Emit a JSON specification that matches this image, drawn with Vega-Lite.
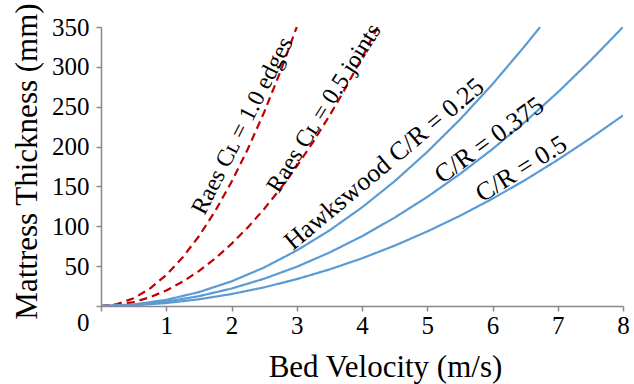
{
  "$schema": "https://vega.github.io/schema/vega-lite/v6.json",
  "width": 522,
  "height": 279,
  "autosize": {"type": "none"},
  "padding": {"left": 101, "top": 27, "right": 11, "bottom": 78},
  "background": "white",
  "config": {
    "view": {"stroke": null},
    "font": "Liberation Serif",
    "axis": {"grid": false, "domainColor": "#898989", "tickColor": "#898989", "domainWidth": 1.5, "tickWidth": 1.5, "tickSize": 5, "labelFont": "Liberation Serif", "labelFontSize": 25, "labelColor": "#000", "labelOverlap": false, "labelFlush": false, "titleFont": "Liberation Serif", "titleFontSize": 31, "titleFontWeight": "normal", "titleColor": "#000"}
  },
  "datasets": {
    "curves": [
      {"series": "Raes edges", "v": 0, "t": 0}, {"series": "Raes edges", "v": 0.25, "t": 2.4}, {"series": "Raes edges", "v": 0.5, "t": 9.7}, {"series": "Raes edges", "v": 0.75, "t": 21.9}, {"series": "Raes edges", "v": 1, "t": 38.9}, {"series": "Raes edges", "v": 1.25, "t": 60.8}, {"series": "Raes edges", "v": 1.5, "t": 87.5}, {"series": "Raes edges", "v": 1.75, "t": 119.1}, {"series": "Raes edges", "v": 2, "t": 155.6}, {"series": "Raes edges", "v": 2.25, "t": 196.9}, {"series": "Raes edges", "v": 2.5, "t": 243.1}, {"series": "Raes edges", "v": 2.75, "t": 294.2}, {"series": "Raes edges", "v": 3, "t": 350},
      {"series": "Raes joints", "v": 0, "t": 0}, {"series": "Raes joints", "v": 0.25, "t": 1.2}, {"series": "Raes joints", "v": 0.5, "t": 4.9}, {"series": "Raes joints", "v": 0.75, "t": 11}, {"series": "Raes joints", "v": 1, "t": 19.5}, {"series": "Raes joints", "v": 1.25, "t": 30.4}, {"series": "Raes joints", "v": 1.5, "t": 43.8}, {"series": "Raes joints", "v": 1.75, "t": 59.6}, {"series": "Raes joints", "v": 2, "t": 77.9}, {"series": "Raes joints", "v": 2.25, "t": 98.6}, {"series": "Raes joints", "v": 2.5, "t": 121.7}, {"series": "Raes joints", "v": 2.75, "t": 147.2}, {"series": "Raes joints", "v": 3, "t": 175.2}, {"series": "Raes joints", "v": 3.25, "t": 205.7}, {"series": "Raes joints", "v": 3.5, "t": 238.5}, {"series": "Raes joints", "v": 3.75, "t": 273.8}, {"series": "Raes joints", "v": 4, "t": 311.5}, {"series": "Raes joints", "v": 4.24, "t": 350},
      {"series": "CR 0.25", "v": 0, "t": 0}, {"series": "CR 0.25", "v": 0.5, "t": 1.9}, {"series": "CR 0.25", "v": 1, "t": 7.7}, {"series": "CR 0.25", "v": 1.5, "t": 17.4}, {"series": "CR 0.25", "v": 2, "t": 30.9}, {"series": "CR 0.25", "v": 2.5, "t": 48.3}, {"series": "CR 0.25", "v": 3, "t": 69.6}, {"series": "CR 0.25", "v": 3.5, "t": 94.7}, {"series": "CR 0.25", "v": 4, "t": 123.7}, {"series": "CR 0.25", "v": 4.5, "t": 156.5}, {"series": "CR 0.25", "v": 5, "t": 193.3}, {"series": "CR 0.25", "v": 5.5, "t": 233.8}, {"series": "CR 0.25", "v": 6, "t": 278.3}, {"series": "CR 0.25", "v": 6.5, "t": 326.6}, {"series": "CR 0.25", "v": 6.73, "t": 350},
      {"series": "CR 0.375", "v": 0, "t": 0}, {"series": "CR 0.375", "v": 0.5, "t": 1.4}, {"series": "CR 0.375", "v": 1, "t": 5.5}, {"series": "CR 0.375", "v": 1.5, "t": 12.3}, {"series": "CR 0.375", "v": 2, "t": 21.9}, {"series": "CR 0.375", "v": 2.5, "t": 34.2}, {"series": "CR 0.375", "v": 3, "t": 49.2}, {"series": "CR 0.375", "v": 3.5, "t": 67}, {"series": "CR 0.375", "v": 4, "t": 87.5}, {"series": "CR 0.375", "v": 4.5, "t": 110.8}, {"series": "CR 0.375", "v": 5, "t": 136.8}, {"series": "CR 0.375", "v": 5.5, "t": 165.5}, {"series": "CR 0.375", "v": 6, "t": 196.9}, {"series": "CR 0.375", "v": 6.5, "t": 231.1}, {"series": "CR 0.375", "v": 7, "t": 268}, {"series": "CR 0.375", "v": 7.5, "t": 307.7}, {"series": "CR 0.375", "v": 8, "t": 350},
      {"series": "CR 0.5", "v": 0, "t": 0}, {"series": "CR 0.5", "v": 0.5, "t": 0.9}, {"series": "CR 0.5", "v": 1, "t": 3.7}, {"series": "CR 0.5", "v": 1.5, "t": 8.4}, {"series": "CR 0.5", "v": 2, "t": 15}, {"series": "CR 0.5", "v": 2.5, "t": 23.4}, {"series": "CR 0.5", "v": 3, "t": 33.7}, {"series": "CR 0.5", "v": 3.5, "t": 45.8}, {"series": "CR 0.5", "v": 4, "t": 59.8}, {"series": "CR 0.5", "v": 4.5, "t": 75.7}, {"series": "CR 0.5", "v": 5, "t": 93.5}, {"series": "CR 0.5", "v": 5.5, "t": 113.1}, {"series": "CR 0.5", "v": 6, "t": 134.6}, {"series": "CR 0.5", "v": 6.5, "t": 158}, {"series": "CR 0.5", "v": 7, "t": 183.3}, {"series": "CR 0.5", "v": 7.5, "t": 210.4}, {"series": "CR 0.5", "v": 8, "t": 239}
    ]
  },
  "encoding": {
    "x": {"field": "v", "type": "quantitative", "scale": {"domain": [0, 8], "nice": false}, "axis": {"values": [0, 1, 2, 3, 4, 5, 6, 7, 8], "format": "d", "title": "Bed Velocity (m/s)", "titlePadding": 14, "titleX": 284, "labelPadding": 2, "labelExpr": "datum.value == 0 ? '' : datum.label"}},
    "y": {"field": "t", "type": "quantitative", "scale": {"domain": [0, 350], "nice": false}, "axis": {"values": [0, 50, 100, 150, 200, 250, 300, 350], "format": "d", "title": "Mattress Thickness (mm)", "titlePadding": 8, "titleY": 134, "labelPadding": 7, "labelOffset": {"condition": {"test": "datum.value == 0", "value": 16}, "value": 0}}}
  },
  "layer": [
    {
      "data": {"name": "curves"},
      "mark": {"type": "line", "strokeWidth": 2.2, "clip": true},
      "encoding": {
        "detail": {"field": "series"},
        "color": {"field": "series", "type": "nominal", "scale": {"domain": ["Raes edges", "Raes joints", "CR 0.25", "CR 0.375", "CR 0.5"], "range": ["#C00000", "#C00000", "#5B9BD5", "#5B9BD5", "#5B9BD5"]}, "legend": null},
        "strokeDash": {"field": "series", "type": "nominal", "scale": {"domain": ["Raes edges", "Raes joints", "CR 0.25", "CR 0.375", "CR 0.5"], "range": [[8, 5], [8, 5], [1, 0], [1, 0], [1, 0]]}, "legend": null}
      }
    },
    {
      "data": {"values": [{"label": "Raes Cʟ = 1.0 edges", "v": 2.17, "t": 226}]},
      "mark": {"type": "text", "angle": -63, "fontSize": 24, "align": "center", "baseline": "middle", "color": "#000"},
      "encoding": {"text": {"field": "label"}}
    },
    {
      "data": {"values": [{"label": "Raes Cʟ = 0.5 joints", "v": 3.42, "t": 248}]},
      "mark": {"type": "text", "angle": -58, "fontSize": 24, "align": "center", "baseline": "middle", "color": "#000"},
      "encoding": {"text": {"field": "label"}}
    },
    {
      "data": {"values": [{"label": "Hawkswood C/R = 0.25", "v": 4.34, "t": 178}]},
      "mark": {"type": "text", "angle": -40, "fontSize": 26, "align": "center", "baseline": "middle", "color": "#000"},
      "encoding": {"text": {"field": "label"}}
    },
    {
      "data": {"values": [{"label": "C/R = 0.375", "v": 5.95, "t": 208}]},
      "mark": {"type": "text", "angle": -36, "fontSize": 26, "align": "center", "baseline": "middle", "color": "#000"},
      "encoding": {"text": {"field": "label"}}
    },
    {
      "data": {"values": [{"label": "C/R = 0.5", "v": 6.44, "t": 172}]},
      "mark": {"type": "text", "angle": -32, "fontSize": 26, "align": "center", "baseline": "middle", "color": "#000"},
      "encoding": {"text": {"field": "label"}}
    }
  ]
}
